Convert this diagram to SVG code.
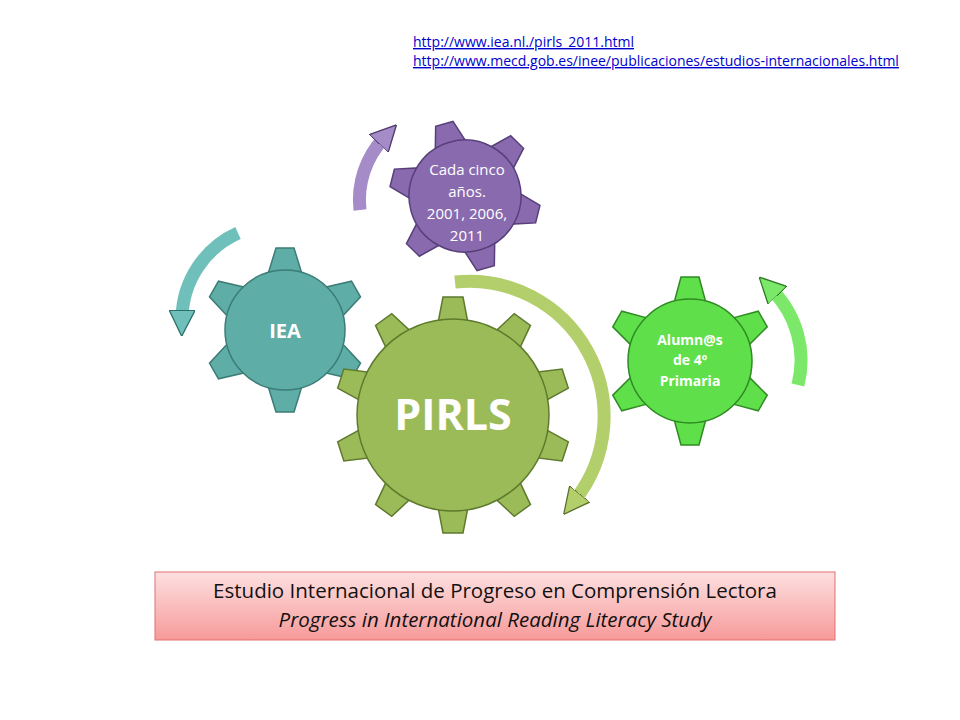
<svg xmlns="http://www.w3.org/2000/svg" xmlns:xlink="http://www.w3.org/1999/xlink" width="960" height="720" viewBox="0 0 960 720">
<style>
text{font-family:"Open Sans","Liberation Sans",sans-serif}
.lnk{font-size:14px;fill:#0000cc;text-decoration:underline}
.gl{fill:#fff;text-anchor:middle;font-weight:bold}
.arr{fill:none;stroke-width:13;stroke-linecap:butt}
</style>
<defs>
<marker id="hT" viewBox="0 0 10 10" refX="3" refY="5" markerWidth="26" markerHeight="26" markerUnits="userSpaceOnUse" orient="auto"><path d="M0,0 L10,5 L0,10 Z" fill="#6fc0bb" stroke="#2f6f6a" stroke-width="0.5"/></marker>
<marker id="hP" viewBox="0 0 10 10" refX="3" refY="5" markerWidth="26" markerHeight="26" markerUnits="userSpaceOnUse" orient="auto"><path d="M0,0 L10,5 L0,10 Z" fill="#a58bc8" stroke="#4e3a6b" stroke-width="0.5"/></marker>
<marker id="hG" viewBox="0 0 10 10" refX="3" refY="5" markerWidth="26" markerHeight="26" markerUnits="userSpaceOnUse" orient="auto"><path d="M0,0 L10,5 L0,10 Z" fill="#b3cf6b" stroke="#5b7030" stroke-width="0.5"/></marker>
<marker id="hL" viewBox="0 0 10 10" refX="3" refY="5" markerWidth="26" markerHeight="26" markerUnits="userSpaceOnUse" orient="auto"><path d="M0,0 L10,5 L0,10 Z" fill="#7be86a" stroke="#2f7a25" stroke-width="0.5"/></marker>
<linearGradient id="box" x1="0" y1="0" x2="0" y2="1"><stop offset="0" stop-color="#fde0e0"/><stop offset="1" stop-color="#f79a9a"/></linearGradient>
</defs>

<g id="connectors">
<path class="arr" d="M238,233 A95,95 0 0 0 182,318" stroke="#6fc0bb" marker-end="url(#hT)"/>
<path class="arr" d="M360,210 A90,90 0 0 1 384,138" stroke="#a58bc8" marker-end="url(#hP)"/>
<path class="arr" d="M455,282 A135,135 0 0 1 575,500" stroke="#b3cf6b" marker-end="url(#hG)"/>
<path class="arr" d="M798,385 A100,100 0 0 0 772,290" stroke="#7be86a" marker-end="url(#hL)"/>
</g>

<g id="gear-iea" transform="translate(285,330)">
<g fill="#5fada7" stroke="#3c7c77" stroke-width="1.5">
<path id="t6" d="M-17,-56 L-9,-82 L9,-82 L17,-56 Z"/>
<use xlink:href="#t6" transform="rotate(60)"/><use xlink:href="#t6" transform="rotate(120)"/><use xlink:href="#t6" transform="rotate(180)"/><use xlink:href="#t6" transform="rotate(240)"/><use xlink:href="#t6" transform="rotate(300)"/>
<circle r="60"/>
</g>
<text class="gl" y="8" font-size="20">IEA</text>
</g>

<g id="gear-cada" transform="translate(465,196) rotate(-16)">
<g fill="#8a6aae" stroke="#57407a" stroke-width="1.5">
<path id="t7" d="M-16,-52 L-9,-75 L9,-75 L16,-52 Z"/>
<use xlink:href="#t7" transform="rotate(60)"/><use xlink:href="#t7" transform="rotate(120)"/><use xlink:href="#t7" transform="rotate(180)"/><use xlink:href="#t7" transform="rotate(240)"/><use xlink:href="#t7" transform="rotate(300)"/>
<circle r="56"/>
</g>
</g>
<g id="label-cada" font-size="15" fill="#fff" text-anchor="middle">
<text x="467" y="175">Cada cinco</text>
<text x="467" y="197">años.</text>
<text x="467" y="219">2001, 2006,</text>
<text x="467" y="241">2011</text>
</g>

<g id="gear-pirls" transform="translate(453,415)">
<g fill="#9bbb59" stroke="#5e7a2c" stroke-width="1.5">
<path id="t10" d="M-15,-92 L-10,-118 L10,-118 L15,-92 Z"/>
<use xlink:href="#t10" transform="rotate(36)"/><use xlink:href="#t10" transform="rotate(72)"/><use xlink:href="#t10" transform="rotate(108)"/><use xlink:href="#t10" transform="rotate(144)"/><use xlink:href="#t10" transform="rotate(180)"/><use xlink:href="#t10" transform="rotate(216)"/><use xlink:href="#t10" transform="rotate(252)"/><use xlink:href="#t10" transform="rotate(288)"/><use xlink:href="#t10" transform="rotate(324)"/>
<circle r="96"/>
</g>
<text class="gl" y="15" font-size="43">PIRLS</text>
</g>

<g id="gear-alumnos" transform="translate(690,361)">
<g fill="#5fe04a" stroke="#2f8a23" stroke-width="1.5">
<path id="t5" d="M-16,-58 L-9,-84 L9,-84 L16,-58 Z"/>
<use xlink:href="#t5" transform="rotate(60)"/><use xlink:href="#t5" transform="rotate(120)"/><use xlink:href="#t5" transform="rotate(180)"/><use xlink:href="#t5" transform="rotate(240)"/><use xlink:href="#t5" transform="rotate(300)"/>
<circle r="62"/>
</g>
<g font-size="14" font-weight="bold" fill="#fff" text-anchor="middle">
<text y="-16">Alumn@s</text><text y="4">de 4º</text><text y="25">Primaria</text>
</g>
</g>

<g id="title-box">
<rect x="155" y="572" width="680" height="68" fill="url(#box)" stroke="#e07070" stroke-width="1"/>
<text x="495" y="598" font-size="20.5" text-anchor="middle" fill="#111">Estudio Internacional de Progreso en Comprensión Lectora</text>
<text x="495" y="627" font-size="20.5" font-style="italic" text-anchor="middle" fill="#111">Progress in International Reading Literacy Study</text>
</g>

<g id="links">
<text class="lnk" x="413" y="47">http://www.iea.nl./pirls_2011.html</text>
<text class="lnk" x="413" y="66">http://www.mecd.gob.es/inee/publicaciones/estudios-internacionales.html</text>
</g>
</svg>
